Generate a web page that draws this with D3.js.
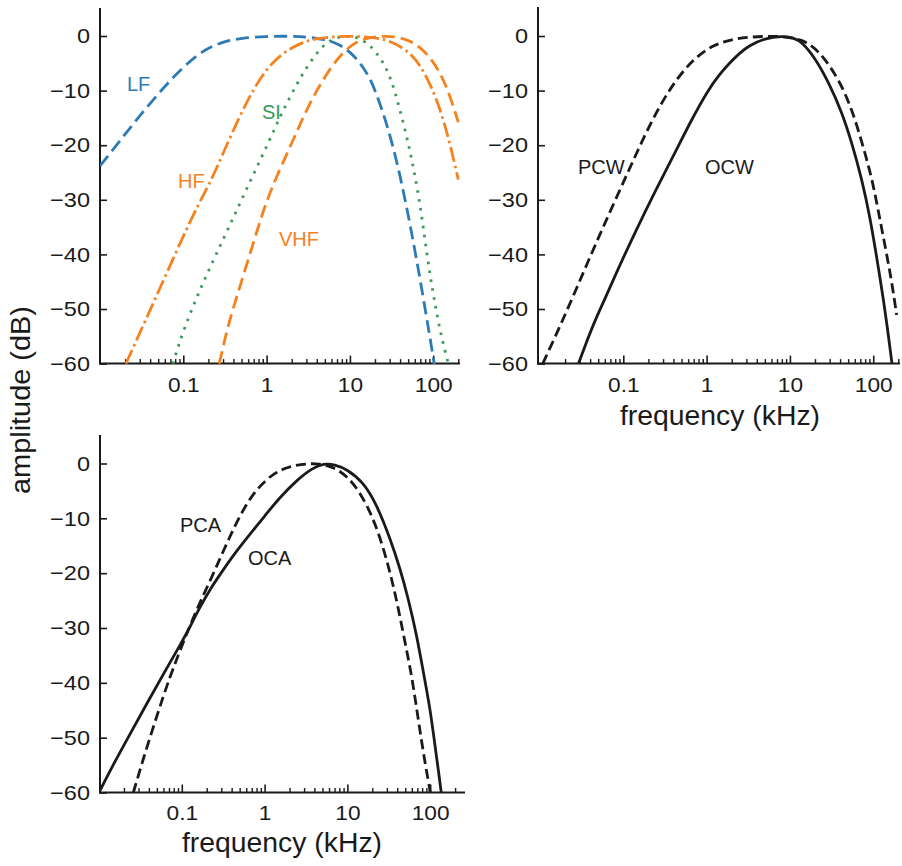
<!DOCTYPE html>
<html><head><meta charset="utf-8">
<script src="https://cdn.jsdelivr.net/npm/d3@7"></script>
<style>
body{margin:0;background:#fff}
svg{display:block}
text{font-family:"Liberation Sans",Arial,Helvetica,sans-serif}
</style>
</head><body>
<svg id="chart" width="902" height="866"></svg>
<script>
// ---------- data ----------
const freqTickValues = [0.1, 1, 10, 100];
const freqTickLabels = ["0.1", "1", "10", "100"];
const freqMinorTicks = [0.02,0.03,0.04,0.05,0.06,0.07,0.08,0.09,
                        0.2,0.3,0.4,0.5,0.6,0.7,0.8,0.9,
                        2,3,4,5,6,7,8,9,
                        20,30,40,50,60,70,80,90,200];
const dbTickValues = [0, -10, -20, -30, -40, -50, -60];

const seriesNames = ["LF","HF","SI","VHF","PCW","OCW","PCA","OCA"];

// [frequency kHz, amplitude dB]
const lfData = [[0.01,-23.8],[0.015,-20.4],[0.02,-18.0],[0.03,-14.6],[0.05,-10.6],[0.07,-8.1],[0.1,-5.7],[0.15,-3.4],[0.2,-2.2],[0.3,-1.05],[0.5,-0.35],[1,-0.05],[2,-0.03],[3,-0.16],[5,-0.64],[7,-1.33],[10,-2.75],[15,-5.9],[20,-9.6],[30,-17.7],[40,-25.5],[50,-32.7],[60,-39.1],[70,-44.8],[80,-50.0],[90,-54.6],[100,-58.9],[103,-60.1]];
const hfData = [[0.0205,-60],[0.03,-54.4],[0.05,-46.9],[0.1,-36.6],[0.15,-31],[0.22,-26.2],[0.3,-21.5],[0.48,-14.5],[0.7,-9.7],[1,-6.0],[1.5,-3.3],[2.5,-1.3],[4,-0.4],[7,-0.1],[10,0],[20,-0.25],[30,-0.85],[50,-2.7],[70,-5.3],[100,-9.9],[130,-14.9],[160,-19.9],[200,-26.3]];
const siData = [[0.075,-60],[0.08,-58.6],[0.1,-54],[0.14,-48.4],[0.2,-43],[0.3,-37.3],[0.42,-32.5],[0.6,-27.4],[0.87,-22.2],[1.25,-17],[1.6,-13.4],[2.3,-8.8],[3,-5.8],[4,-3.1],[5.2,-1.2],[7,-0.2],[10,0],[13,-0.4],[17.4,-1.6],[25,-4.6],[32,-8.3],[38,-12.4],[46,-17.2],[53,-21.3],[60,-25.4],[70,-31],[83,-39.5],[99,-47],[120,-53.8],[140,-58],[152,-60]];
const vhfData = [[0.27,-60],[0.3,-57],[0.35,-52.6],[0.45,-47.2],[0.6,-41],[0.8,-34.8],[1.0,-30.2],[1.4,-24.8],[2.0,-19.7],[2.75,-14.8],[4,-9.9],[5.8,-5.9],[8.3,-2.9],[12,-1.0],[17,-0.3],[25,0],[35,-0.1],[50,-0.74],[70,-2.0],[100,-4.6],[130,-7.7],[160,-11.1],[200,-15.8]];
const pcwData = [[0.0108,-60],[0.017,-53.5],[0.027,-46.5],[0.043,-39.3],[0.07,-32],[0.115,-24.8],[0.18,-18.2],[0.28,-12.5],[0.43,-8],[0.68,-4.4],[1.15,-1.7],[2.2,-0.4],[5,0],[9,-0.1],[13.8,-0.7],[18,-1.7],[24,-3.4],[38,-7.7],[55,-13.2],[73,-19.4],[96,-25.9],[115,-32],[139,-38.5],[167,-45],[191,-51.1]];
const ocwData = [[0.029,-60],[0.035,-56.6],[0.046,-52],[0.06,-48.2],[0.08,-43.8],[0.14,-35.8],[0.24,-28.5],[0.42,-21.3],[0.66,-15.3],[1.05,-9.8],[1.4,-7.2],[1.82,-5.2],[2.5,-3.1],[3.2,-1.8],[5,-0.4],[8,0],[11,-0.3],[14,-1.1],[20,-4.0],[29,-8.4],[42,-13.9],[55,-19.4],[73,-26.2],[92,-33.4],[110,-40.5],[132,-48],[152,-54.8],[168,-60]];
const pcaData = [[0.026,-60],[0.034,-54],[0.05,-46],[0.072,-38.8],[0.1,-33.3],[0.12,-30.3],[0.16,-25.8],[0.22,-21.4],[0.3,-16.8],[0.4,-12.6],[0.55,-8.4],[0.8,-4.6],[1.3,-1.7],[2,-0.5],[3.3,0],[4.5,-0.05],[6.5,-0.5],[9.8,-2.2],[14.2,-5.2],[20.6,-10],[27.2,-15.4],[34.3,-21],[41.2,-26.4],[49.7,-32.6],[59.8,-38.7],[68.7,-44.7],[78.9,-50.8],[90.7,-56.3],[98,-59],[100,-60]];
const ocaData = [[0.01,-60],[0.0156,-54.3],[0.0248,-48.8],[0.0394,-43.3],[0.0626,-37.9],[0.0997,-32.6],[0.12,-30.4],[0.16,-26.6],[0.22,-22.9],[0.3,-19.9],[0.45,-16.1],[0.7,-12.5],[1,-9.6],[1.5,-6.3],[2.5,-2.9],[3.8,-0.8],[5.2,0],[7,-0.2],[9.8,-1.0],[15.6,-3.4],[22.6,-7.5],[32.7,-13.6],[43.2,-19.1],[54.3,-24.6],[68.7,-31.3],[82.6,-38],[99.6,-44.6],[114,-51.3],[131,-58],[136,-60]];

const xAxisTitle = "frequency (kHz)";
const yAxisTitle = "amplitude (dB)";

// ---------- styling / layout ----------
const BLUE = "#2c7bb6", ORANGE = "#f5821f", GREEN = "#3a9a57", BLACK = "#1a1a1a";

const panels = [
  { xr:[100,458.3], axis:[100,460], yr:[363.6,36], yTop:8, clipId:"cA",
    series:[
      {name:"LF", data:lfData, color:BLUE, dash:"13,6"},
      {name:"SI", data:siData, color:GREEN, dash:"2.6,6.4"},
      {name:"VHF", data:vhfData, color:ORANGE, dash:"13,6"},
      {name:"HF", data:hfData, color:ORANGE, dash:"15,4,2.5,4"}
    ],
    labels:[
      {text:"LF", x:127, y:91, color:BLUE},
      {text:"SI", x:262, y:119, color:GREEN},
      {text:"HF", x:178, y:188, color:ORANGE},
      {text:"VHF", x:279, y:246, color:ORANGE}
    ]},
  { xr:[540,898.3], axis:[538,900], yr:[363.6,36], yTop:7, clipId:"cB", xTitle:{x:720,y:425},
    series:[
      {name:"PCW", data:pcwData, color:BLACK, dash:"10,5"},
      {name:"OCW", data:ocwData, color:BLACK, dash:null}
    ],
    labels:[
      {text:"PCW", x:578, y:174, color:BLACK},
      {text:"OCW", x:705, y:174, color:BLACK}
    ]},
  { xr:[99,455.1], axis:[100,465], yr:[792.5,463.5], yTop:435, clipId:"cC", xTitle:{x:282,y:852},
    series:[
      {name:"PCA", data:pcaData, color:BLACK, dash:"10,5"},
      {name:"OCA", data:ocaData, color:BLACK, dash:null}
    ],
    labels:[
      {text:"PCA", x:180, y:532, color:BLACK},
      {text:"OCA", x:248, y:565, color:BLACK}
    ]}
];

const svg = d3.select("#chart");
const defs = svg.append("defs");

function widen(sel, k) {
  sel.each(function () {
    const w = this.getComputedTextLength();
    d3.select(this).attr("textLength", w * k).attr("lengthAdjust", "spacingAndGlyphs");
  });
}

panels.forEach(p => {
  const x = d3.scaleLog().domain([0.01, 200]).range(p.xr);
  const y = d3.scaleLinear().domain([-60, 0]).range(p.yr);
  const g = svg.append("g");

  defs.append("clipPath").attr("id", p.clipId).append("rect")
    .attr("x", p.axis[0]).attr("y", p.yTop)
    .attr("width", p.axis[1] - p.axis[0] + 4).attr("height", p.yr[0] - p.yTop + 0.5);

  // y axis
  const yAxis = d3.axisLeft(y).tickValues(dbTickValues).tickFormat(d3.format("d"))
    .tickSizeInner(-7).tickSizeOuter(0).tickPadding(10);
  const gy = g.append("g").attr("transform", `translate(${p.axis[0]},0)`).call(yAxis);
  gy.select(".domain").remove();
  gy.selectAll(".tick line").attr("stroke", BLACK).attr("stroke-width", 1.6);
  gy.selectAll(".tick text").attr("font-size", 21).attr("fill", BLACK)
    .attr("font-family", '"Liberation Sans", Arial, sans-serif');
  widen(gy.selectAll(".tick text"), 1.12);
  g.append("line").attr("x1", p.axis[0]).attr("x2", p.axis[0])
    .attr("y1", p.yTop).attr("y2", p.yr[0] + 1)
    .attr("stroke", BLACK).attr("stroke-width", 2);

  // x axis: minor ticks then major
  const xMinor = d3.axisBottom(x).tickValues(freqMinorTicks).tickFormat("")
    .tickSizeInner(-4.5).tickSizeOuter(0);
  const gxm = g.append("g").attr("transform", `translate(0,${p.yr[0]})`).call(xMinor);
  gxm.select(".domain").remove();
  gxm.selectAll(".tick line").attr("stroke", BLACK).attr("stroke-width", 1.4);

  const xAxis = d3.axisBottom(x).tickValues(freqTickValues)
    .tickFormat((d, i) => freqTickLabels[i]).tickSizeInner(-8).tickSizeOuter(0).tickPadding(13);
  const gx = g.append("g").attr("transform", `translate(0,${p.yr[0]})`).call(xAxis);
  gx.select(".domain").remove();
  gx.selectAll(".tick line").attr("stroke", BLACK).attr("stroke-width", 1.6);
  gx.selectAll(".tick text").attr("font-size", 21).attr("fill", BLACK)
    .attr("font-family", '"Liberation Sans", Arial, sans-serif');
  widen(gx.selectAll(".tick text"), 1.08);
  g.append("line").attr("x1", p.axis[0] - 1).attr("x2", p.axis[1])
    .attr("y1", p.yr[0]).attr("y2", p.yr[0])
    .attr("stroke", BLACK).attr("stroke-width", 2);

  // curves
  const line = d3.line().x(d => x(d[0])).y(d => y(d[1])).curve(d3.curveBasis);
  const gc = g.append("g").attr("clip-path", `url(#${p.clipId})`);
  p.series.forEach(s => {
    gc.append("path").datum(s.data)
      .attr("d", line).attr("fill", "none")
      .attr("stroke", s.color).attr("stroke-width", 2.8)
      .attr("stroke-dasharray", s.dash)
      .attr("stroke-linejoin", "round");
  });

  // curve labels
  p.labels.forEach(l => {
    g.append("text").attr("x", l.x).attr("y", l.y).text(l.text)
      .attr("font-size", 20).attr("fill", l.color);
  });

  if (p.xTitle) {
    g.append("text").attr("x", p.xTitle.x).attr("y", p.xTitle.y)
      .attr("text-anchor", "middle").attr("font-size", 27).attr("fill", BLACK)
      .attr("textLength", 200).attr("lengthAdjust", "spacingAndGlyphs")
      .text(xAxisTitle);
  }
});

// shared y axis title
svg.append("text")
  .attr("transform", "translate(30,400) rotate(-90)")
  .attr("text-anchor", "middle").attr("font-size", 27).attr("fill", BLACK)
  .attr("textLength", 188).attr("lengthAdjust", "spacingAndGlyphs")
  .text(yAxisTitle);
</script>
</body></html>
